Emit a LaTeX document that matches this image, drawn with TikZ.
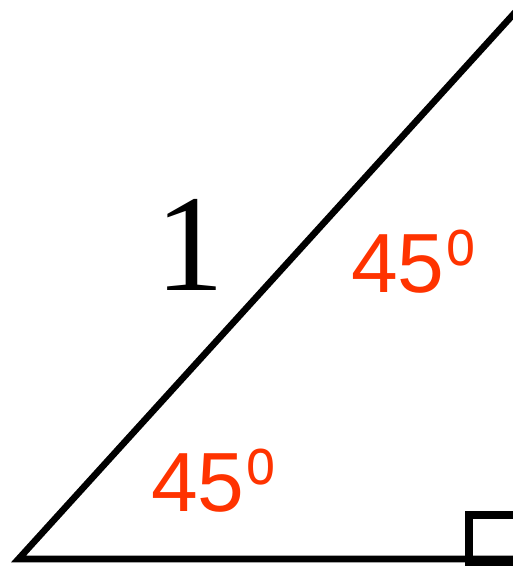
\documentclass[tikz,border=0pt]{standalone}
\usepackage{fontspec}
\usepackage{tikz}
\newfontfamily\anglefont{Liberation Sans}
\newfontfamily\sidefont{Liberation Serif}
\definecolor{anglered}{HTML}{FF3300}
\tikzset{
  anglelabel/.style={anglered, anchor=base west, inner sep=0,
    font=\anglefont\fontsize{84}{84}\selectfont},
  edge/.style={black, line width=6.6pt}
}
\newcommand{\dego}{\kern1.5pt\raisebox{27pt}{\scalebox{0.79}[1]{\fontsize{66}{66}\selectfont o}}}

\begin{document}
\begin{tikzpicture}[x=1pt,y=1pt]
      \useasboundingbox (0,0) rectangle (512,567);

      \coordinate (A) at (18.5,8);
      \coordinate (B) at (530,8);
      \coordinate (C) at (520,560);

      \draw [edge] (B) -- (A) -- (C);
      \draw [black, line width=8pt] (468.5,4.7) rectangle (535,52.3);

      \node [anchor=base, inner sep=0, font=\sidefont\fontsize{138}{138}\selectfont] (side) at (189.6,276) {1};

      \node [anglelabel] (top) at (351,274.3) {45\dego};
      \node [anglelabel] (bottom) at (151,55.3) {45\dego};
  \end{tikzpicture}
\end{document}
